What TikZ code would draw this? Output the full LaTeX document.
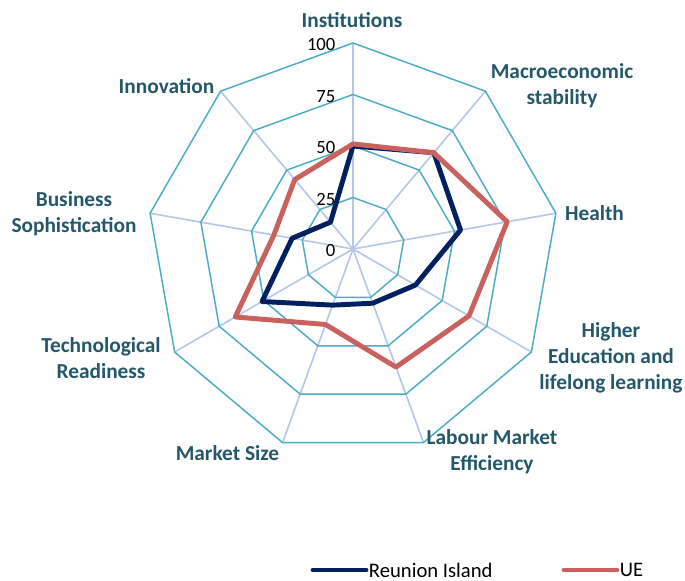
\documentclass[tikz,border=0pt]{standalone}
\usepackage{fontspec}
\setmainfont{Carlito}
\usetikzlibrary{calc}
\definecolor{ringteal}{HTML}{4BACC6}
\definecolor{spokeblue}{HTML}{B4C7E7}
\definecolor{reunionnavy}{HTML}{002060}
\definecolor{uered}{HTML}{C9625F}
\definecolor{labelteal}{HTML}{23586A}

\begin{document}
\begin{tikzpicture}[x=0.75pt,y=0.75pt,
  axislabel/.style={font=\bfseries\fontsize{16}{19.5}\selectfont, text=labelteal, align=center},
  ticklabel/.style={font=\fontsize{14}{16}\selectfont, anchor=east, inner sep=1pt},
  legendtext/.style={font=\fontsize{15.5}{18}\selectfont, anchor=west, inner sep=2pt},
  series/.style={line width=3.7pt, line join=round, line cap=round}]
  \useasboundingbox (0,0) rectangle (685,581);
  \coordinate (centre) at (353,332);
  \begin{scope}[shift={(centre)}]
    \foreach \k in {0,...,8}
      \draw[spokeblue, line width=1.2pt] (0,0) -- (90-40*\k:206);
    \foreach \r in {51.5,103,154.5,206}
      \draw[ringteal, line width=1.1pt] (90:\r) \foreach \k in {1,...,8} {-- (90-40*\k:\r)} -- cycle;
    \draw[series, reunionnavy] (90:2.06*50) \foreach \v [count=\k] in {61,53,35,28,29,51,30,17} {-- (90-40*\k:2.06*\v)} -- cycle;
    \draw[series, uered] (90:2.06*51) \foreach \v [count=\k] in {61,76,65,61,39,66,39,44} {-- (90-40*\k:2.06*\v)} -- cycle;
    \foreach \v in {0,25,50,75,100}
      \node[ticklabel] (tick\v) at (-16,2.06*\v-2) {\v};
  \end{scope}

  \node[axislabel] (institutions) at (352,561) {Institutions};
  \node[axislabel] (macro) at (562,495.5) {Macroeconomic\\stability};
  \node[axislabel] (health) at (594.5,368) {Health};
  \node[axislabel] (highered) at (611,223.5) {Higher\\Education and\\lifelong learning};
  \node[axislabel] (labour) at (492,129) {Labour Market\\Efficiency};
  \node[axislabel] (marketsize) at (227.5,128) {Market Size};
  \node[axislabel] (techready) at (101,222.5) {Technological\\Readiness};
  \node[axislabel] (business) at (74,367.5) {Business\\Sophistication};
  \node[axislabel] (innovation) at (166.5,495) {Innovation};

  \node[legendtext] (reunionkey) at (366,11) {Reunion Island};
  \draw[series, reunionnavy] ($(reunionkey.west)+(-53,0)$) -- (reunionkey.west);
  \node[legendtext] (uekey) at (617,11) {UE};
  \draw[series, uered] ($(uekey.west)+(-53,0)$) -- (uekey.west);
\end{tikzpicture}
\end{document}
